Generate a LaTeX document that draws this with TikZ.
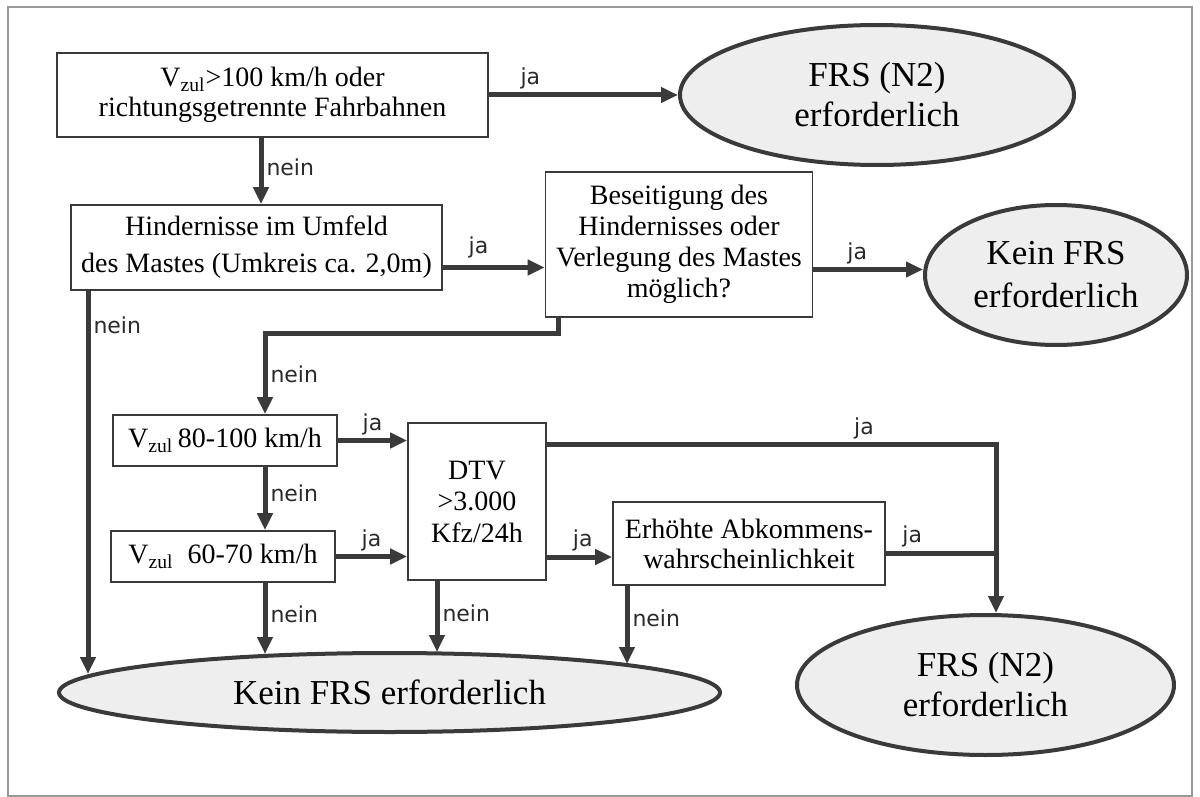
\documentclass[tikz,border=0pt]{standalone}
\usepackage{fontspec}
\setmainfont{Liberation Serif}
\newfontfamily\labfont{DejaVu Sans}
\usepackage{tikz}
\usetikzlibrary{arrows.meta, positioning, shapes.geometric}
\definecolor{linegray}{HTML}{3A3A3A}
\definecolor{labgray}{HTML}{2A2A2A}
\definecolor{ovalfill}{HTML}{EEEEEE}

\begin{document}
\begin{tikzpicture}[x=0.5pt,y=-0.5pt,>={Triangle[length=8.5pt,width=7.5pt]},
        box/.style={draw=linegray,line width=0.8pt,fill=white,align=center,inner sep=0pt,
          font=\fontsize{14}{15}\selectfont},
        oval/.style={ellipse,draw=linegray,line width=2pt,fill=ovalfill,align=center,inner sep=0pt,
          font=\fontsize{17.5}{20}\selectfont},
        arr/.style={->,draw=linegray,line width=2.5pt},
        conn/.style={draw=linegray,line width=2.5pt},
        lab/.style={font=\labfont\fontsize{11}{13}\selectfont,text=labgray,inner sep=1.5pt}]

    \useasboundingbox (0,0) rectangle (1200,797);
    \fill[white] (0,0) rectangle (1200,797);
    \draw[gray!80,line width=0.8pt] (8,7) rectangle (1192,796);

    % Kaestchen und Ovale
    \node[box,minimum width=215.5pt,minimum height=42pt] (v100) at (272.5,95)
      {V\textsubscript{zul}>100 km/h oder\\richtungsgetrennte Fahrbahnen};
    \node[oval,minimum width=197pt,minimum height=70pt] (n2a) at (877,95) {FRS (N2)\\erforderlich};
    \node[box,minimum width=185.5pt,minimum height=42.5pt,font=\fontsize{14}{18.5}\selectfont] (hind) at (256.5,247.5)
      {Hindernisse im Umfeld\\des Mastes (Umkreis ca. 2,0m)};
    \node[box,minimum width=133.5pt,minimum height=72.5pt,font=\fontsize{14}{15.5}\selectfont] (beseit) at (679,244.5)
      {Beseitigung des\\Hindernisses oder\\Verlegung des Mastes\\möglich?};
    \node[oval,minimum width=131pt,minimum height=70pt,font=\fontsize{17.5}{21.5}\selectfont] (kein1) at (1056,275)
      {Kein FRS\\erforderlich};
    \node[box,minimum width=112pt,minimum height=25.5pt] (v80) at (225,440.5) {V\textsubscript{zul}\,80-100 km/h};
    \node[box,minimum width=112pt,minimum height=25.5pt] (v60) at (223,556.5) {V\textsubscript{zul}\enspace 60-70 km/h};
    \node[box,minimum width=69pt,minimum height=78.5pt,font=\fontsize{14}{15.75}\selectfont] (dtv) at (477,501.5)
      {DTV\\>3.000\\Kfz/24h};
    \node[box,minimum width=136pt,minimum height=41.5pt] (erh) at (749,543.5)
      {Erhöhte Abkommens-\\wahrscheinlichkeit};
    \node[oval,minimum width=330.5pt,minimum height=39.5pt] (kein2) at (389.5,692.5) {Kein FRS erforderlich};
    \node[oval,minimum width=188.5pt,minimum height=70pt] (n2b) at (985.5,685) {FRS (N2)\\erforderlich};

    % Spalten und Pfeilspitzen am grossen Oval
    \coordinate (cA) at (88,0);
    \coordinate (cB) at (265,0);
    \coordinate (cC) at (558,0);
    \coordinate (cD) at (996,0);
    \coordinate (cE) at (437,0);
    \coordinate (cF) at (627,0);
    \coordinate (tA) at (88,674);
    \coordinate (tB) at (265,654);
    \coordinate (tE) at (437,652);
    \coordinate (tF) at (627,664);

    \draw[arr] (v100.east) -- node[lab,above,pos=.22] {ja} (n2a.west);
    \draw[arr] ([xshift=2.25pt]hind.north |- v100.south) -- node[lab,right,pos=.45] {nein} ([xshift=2.25pt]hind.north);
    \draw[arr] ([yshift=-10pt]hind.east) -- node[lab,above=2pt,pos=.35] {ja} ([yshift=-10pt]hind.east -| beseit.west);
    \draw[arr] ([yshift=-12.5pt]beseit.east) -- node[lab,above,pos=.4] {ja} ([yshift=-12.5pt]beseit.east -| kein1.west);
    \draw[arr] (hind.south -| cA) -- node[lab,right,pos=.09] {nein} (tA);
    \draw[arr] (beseit.south -| cC) -- ++(0,16) -| node[lab,right,pos=.75] {nein} (v80.north -| cB);

    \draw[arr] (v80.east) -- node[lab,above,pos=.5] {ja} (v80.east -| dtv.west);
    \draw[arr] (v80.south -| cB) -- node[lab,right,pos=.42] {nein} (v60.north -| cB);
    \draw[arr] (v60.east) -- node[lab,above,pos=.5] {ja} (v60.east -| dtv.west);
    \draw[arr] (v60.south -| cB) -- node[lab,right,pos=.44] {nein} (tB);

    \draw[arr] (dtv.south -| cE) -- node[lab,right,pos=.46] {nein} (tE);
    \draw[arr] ([yshift=-11pt]dtv.north east) -| node[lab,above,pos=.353] {ja} (n2b.north -| cD);
    \draw[arr] ([yshift=-27.75pt]dtv.east) -- node[lab,above,pos=.55] {ja} ([yshift=-27.75pt]dtv.east -| erh.west);
    \draw[conn] ([yshift=-4.75pt]erh.east) -- node[lab,above,pos=.24] {ja} ([yshift=-4.75pt]erh.east -| cD);
    \draw[arr] (erh.south -| cF) -- node[lab,right,pos=.42] {nein} (tF);
\end{tikzpicture}
\end{document}
